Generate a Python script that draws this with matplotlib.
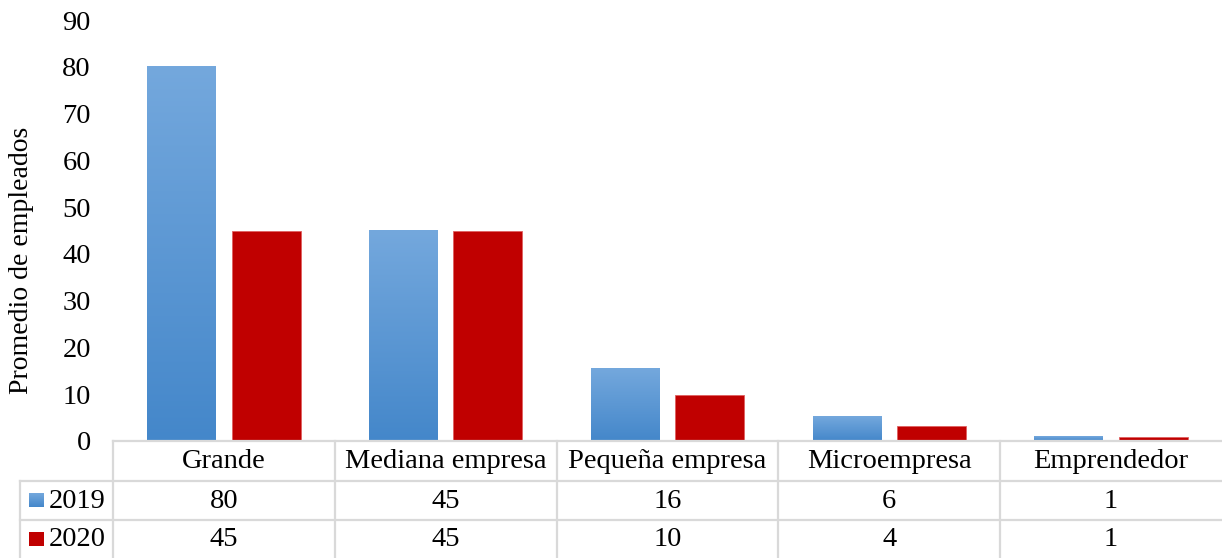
import matplotlib
matplotlib.use("Agg")
import matplotlib.pyplot as plt
import numpy as np
from matplotlib.colors import LinearSegmentedColormap
from matplotlib.patches import Rectangle

categories = ["Grande", "Mediana empresa", "Pequeña empresa", "Microempresa", "Emprendedor"]
series_names = ["2019", "2020"]
values_2019 = [80, 45, 15.4, 5.3, 0.9]
values_2020 = [45, 45, 9.9, 3.3, 0.85]
table_2019 = ["80", "45", "16", "6", "1"]
table_2020 = ["45", "45", "10", "4", "1"]
yticks = [0, 10, 20, 30, 40, 50, 60, 70, 80, 90]

W, H = 1222, 558
plt.rcParams['font.family'] = ['Liberation Serif', 'DejaVu Serif']
fig = plt.figure(figsize=(W / 100, H / 100), dpi=100)

def fx(x):
    return x / W

def fy(y):
    return 1 - y / H

left, right, top, bottom = 113, 1222, 20, 441
ax = fig.add_axes([fx(left), fy(bottom), (right - left) / W, (bottom - top) / H])
for s in ax.spines.values():
    s.set_visible(False)
ax.set_xticks([])
ax.set_yticks(yticks)
ax.set_yticklabels([str(t) for t in yticks], fontsize=20.5)
ax.tick_params(axis='y', length=0, pad=16)

blue_cmap = LinearSegmentedColormap.from_list("b", ["#4487ca", "#74a8dd"])
red = "#C00000"
bw = 0.311
off = 0.19
x = np.arange(len(categories))
grad = np.linspace(0, 1, 256).reshape(-1, 1)
for i, v in enumerate(values_2019):
    x0 = x[i] - off - bw / 2
    ax.imshow(grad, cmap=blue_cmap, origin='lower', aspect='auto',
              extent=[x0, x0 + bw, 0, v], zorder=2)
ax.bar(x + off, values_2020, width=bw, color=red, edgecolor="#e06060", linewidth=0.6, zorder=2)
ax.set_xlim(-0.5, len(categories) - 0.5)
ax.set_ylim(0, 90)

fig.text(fx(22), fy(260), "Promedio de empleados", rotation=90, fontsize=20,
         ha='center', va='center')

# table
grid = "#d9d9d9"
lw = 1.6
col_x = [left + (right - left) * k / len(categories) for k in range(len(categories) + 1)]

def hline(y, x0, x1):
    fig.add_artist(plt.Line2D([fx(x0), fx(x1)], [fy(y), fy(y)], color=grid, lw=lw))

def vline(x_, y0, y1):
    fig.add_artist(plt.Line2D([fx(x_), fx(x_)], [fy(y0), fy(y1)], color=grid, lw=lw))

hline(441, left, right)
hline(481, 20, right)
hline(520, 20, right)
vline(20, 481, 558)
for cx in col_x[:-1]:
    vline(cx, 441, 558)

for i, c in enumerate(categories):
    cxm = (col_x[i] + col_x[i + 1]) / 2
    fig.text(fx(cxm), fy(462), c, fontsize=20.5, ha='center', va='center')
    fig.text(fx(cxm), fy(501), table_2019[i], fontsize=20.5, ha='center', va='center')
    fig.text(fx(cxm), fy(540), table_2020[i], fontsize=20.5, ha='center', va='center')

# legend keys in table
for yy, name, col in [(500, series_names[0], None), (539, series_names[1], red)]:
    if col is None:
        kax = fig.add_axes([fx(29), fy(yy + 7), 15 / W, 14 / H])
        kax.imshow(grad, cmap=blue_cmap, origin='lower', aspect='auto')
        kax.axis('off')
    else:
        fig.add_artist(Rectangle((fx(29), fy(yy + 7)), 15 / W, 14 / H,
                                 transform=fig.transFigure, facecolor=col, edgecolor='none'))
    fig.text(fx(49), fy(yy + 1), name, fontsize=20.5, ha='left', va='center')

fig.savefig("out.png", dpi=100)
